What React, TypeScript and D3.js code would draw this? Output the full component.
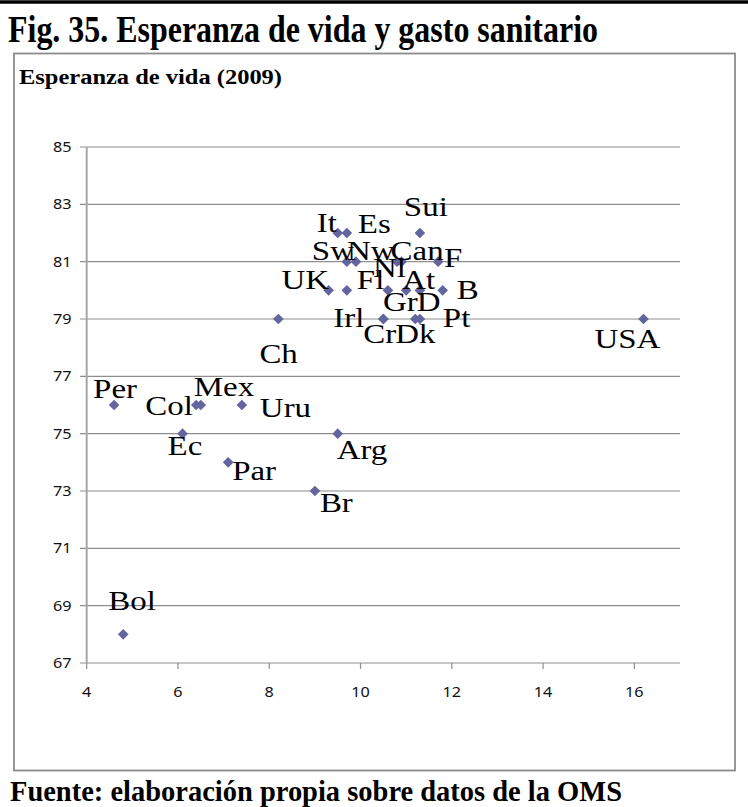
import React from "react";
import * as d3 from "d3";

// ---- data ----
const countries = ["Bol","Per","Col","Mex","Uru","Ec","Par","Br","Arg","Ch","USA","It","Es","Sui","Sw","Nw","Nl","Can","F","UK","Fl","Gr","At","D","B","Irl","Cr","Dk","Pt"];
const healthSpending = [4.8,4.6,6.4,6.5,7.4,6.1,7.1,9.0,9.5,8.2,16.2,9.5,9.7,11.3,9.7,9.9,10.8,10.9,11.7,9.3,9.7,10.6,11.0,11.3,11.8,10.5,10.5,11.2,11.3];
const lifeExpectancy = [68,76,76,76,76,75,74,73,75,79,79,82,82,82,81,81,81,81,81,80,80,80,80,80,80,79,79,79,79];
const xTicks = [4,6,8,10,12,14,16];
const yTicks = [67,69,71,73,75,77,79,81,83,85];

// label placement (layout only, pixel offsets from the marker)
const labelOffsets: [number, number][] = [
  [-15,-24],[-21,-7],[-51,10],[-7,-9],[18,12],[-15,21],[4,18],[5,21],[-1,25],[-19,44],[-49,29],
  [-21,-1],[11,0],[-16,-17],[-35,-2],[-9,-2],[-24,15],[-11,-2],[6,5],[-47,-1],[10,-1],[-5,21],[-4,-1],[-3,21],[14,9],
  [-50,8],[-20,24],[-20,24],[23,8]
];

const W = 748, H = 807;
const x = d3.scaleLinear().domain([4, 17]).range([86.7, 680]);
const y = d3.scaleLinear().domain([67, 85]).range([663, 147]);
const diamond = d3.symbol().type(d3.symbolDiamond2 ?? d3.symbolDiamond).size(72)();

const serif = "'Liberation Serif', 'Times New Roman', serif";
const sans = "'Noto Sans', 'Open Sans', sans-serif";

export default function App() {
  const sx = 1.22;
  const tx = 1.12;
  return (
    <svg width={W} height={H} style={{ position: "absolute", left: 0, top: 0, background: "#fff" }}>
      <line x1={0} x2={W} y1={2} y2={2} stroke="#000" strokeWidth={3.5} />
      <text x={8} y={42} fontFamily={serif} fontWeight="bold" fontSize={37} textLength={590} lengthAdjust="spacingAndGlyphs">
        Fig. 35. Esperanza de vida y gasto sanitario
      </text>
      <rect x={14} y={53.5} width={721} height={717} fill="none" stroke="#8c8c8c" strokeWidth={1.8} />
      <text x={19} y={83.5} fontFamily={serif} fontWeight="bold" fontSize={20} textLength={263} lengthAdjust="spacingAndGlyphs">
        Esperanza de vida (2009)
      </text>

      {/* gridlines */}
      {yTicks.map((t) => (
        <g key={"y" + t}>
          <line x1={80} x2={x(17)} y1={y(t)} y2={y(t)} stroke="#8e8e8e" strokeWidth={1.2} />
          <g transform={`translate(71.5,${y(t) + 5}) scale(${tx},1)`}>
            <text textAnchor="end" fontFamily={sans} fontSize={14.5} fill="#111">{t}</text>
          </g>
        </g>
      ))}
      <line x1={x(4)} x2={x(4)} y1={y(85)} y2={y(67)} stroke="#a6a6a6" strokeWidth={2} />
      {xTicks.map((t) => (
        <g key={"x" + t}>
          <line x1={x(t)} x2={x(t)} y1={y(67)} y2={y(67) + 6} stroke="#8e8e8e" strokeWidth={1.2} />
          <g transform={`translate(${x(t)},${697}) scale(${tx},1)`}>
            <text textAnchor="middle" fontFamily={sans} fontSize={14.5} fill="#111">{t}</text>
          </g>
        </g>
      ))}

      {/* markers */}
      {countries.map((c, i) => (
        <path key={"m" + c} d={diamond as string} transform={`translate(${x(healthSpending[i])},${y(lifeExpectancy[i])})`} fill="#64649e" />
      ))}
      {/* labels */}
      {countries.map((c, i) => (
        <g key={"l" + c} transform={`translate(${x(healthSpending[i]) + labelOffsets[i][0]},${y(lifeExpectancy[i]) + labelOffsets[i][1]}) scale(${sx},1)`}>
          <text fontFamily={serif} fontSize={27} fill="#000">{c}</text>
        </g>
      ))}

      <text x={10} y={801} fontFamily={serif} fontWeight="bold" fontSize={30} textLength={612} lengthAdjust="spacingAndGlyphs">
        Fuente: elaboración propia sobre datos de la OMS
      </text>
    </svg>
  );
}
